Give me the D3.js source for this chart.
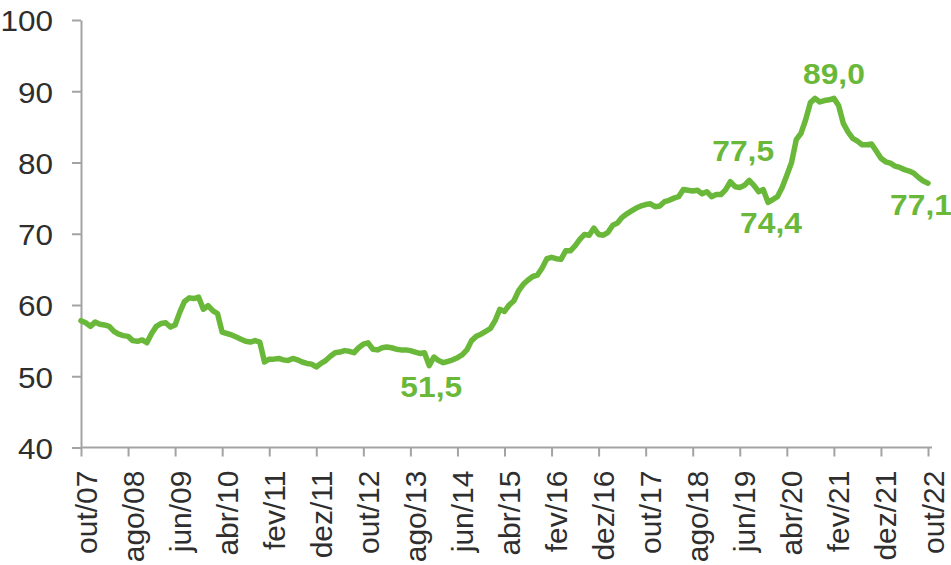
<!DOCTYPE html>
<html>
<head>
<meta charset="utf-8">
<script src="https://cdn.jsdelivr.net/npm/d3@7"></script>
<style>
  body { margin: 0; background: #fff; }
  svg { display: block; font-family: "Liberation Sans", Arial, sans-serif; }
</style>
</head>
<body>
<svg class="chart"></svg>
<script>
// monthly index, out/07 .. out/22 (181 months)
const values = [
    57.8, 57.5, 57.0, 57.6, 57.3, 57.2, 57.0, 56.3, 55.9, 55.7,
    55.6, 55.0, 54.9, 55.1, 54.7, 56.0, 57.0, 57.4, 57.5, 56.9,
    57.2, 59.0, 60.5, 61.0, 60.9, 61.1, 59.4, 59.9, 59.2, 58.8,
    56.2, 56.0, 55.8, 55.5, 55.2, 54.9, 54.8, 55.0, 54.8, 52.0,
    52.4, 52.4, 52.5, 52.3, 52.2, 52.5, 52.3, 52.0, 51.8, 51.7,
    51.3, 51.8, 52.2, 52.8, 53.3, 53.4, 53.6, 53.5, 53.3, 54.0,
    54.5, 54.7, 53.8, 53.7, 54.0, 54.1, 54.0, 53.8, 53.7, 53.7,
    53.6, 53.4, 53.2, 53.3, 51.5, 52.7, 52.2, 51.9, 52.1, 52.3,
    52.6, 53.0, 53.7, 55.0, 55.6, 55.9, 56.3, 56.7, 57.8, 59.4,
    59.1, 60.0, 60.6, 62.0, 62.9, 63.5, 64.0, 64.2, 65.2, 66.5,
    66.7, 66.5, 66.4, 67.6, 67.6, 68.3, 69.2, 69.9, 69.8, 70.8,
    69.9, 69.8, 70.2, 71.2, 71.5, 72.3, 72.8, 73.2, 73.6, 73.9,
    74.1, 74.2, 73.8, 73.9, 74.5, 74.7, 75.0, 75.2, 76.2, 76.1,
    76.0, 76.1, 75.6, 75.9, 75.2, 75.5, 75.5, 76.2, 77.3, 76.6,
    76.5, 76.8, 77.5, 76.8, 75.9, 76.2, 74.4, 74.8, 75.2, 76.5,
    78.2, 80.0, 83.2, 84.1, 86.0, 88.4, 89.0, 88.5, 88.7, 88.8,
    89.0, 88.0, 85.5, 84.3, 83.4, 83.0, 82.5, 82.5, 82.6, 81.6,
    80.6, 80.1, 79.9, 79.5, 79.3, 79.0, 78.8, 78.5, 77.9, 77.4,
    77.1
];

const tickLabels = ["out/07", "ago/08", "jun/09", "abr/10", "fev/11", "dez/11", "out/12",
    "ago/13", "jun/14", "abr/15", "fev/16", "dez/16", "out/17", "ago/18", "jun/19",
    "abr/20", "fev/21", "dez/21", "out/22"];

const yTicks = [40, 50, 60, 70, 80, 90, 100];

// highlighted points: month index and label
const highlightIdx = [74, 160, 142, 146, 180];
const highlightText = ["51,5", "89,0", "77,5", "74,4", "77,1"];

const width = 951, height = 565,
      margin = { top: 20, left: 81, right: 23, bottom: 117.5 };

const green = "#6ab83a", axisGray = "#a3a3a3", textColor = "#2e2e2e";

const svg = d3.select(".chart").attr("width", width).attr("height", height);

const x = d3.scaleLinear()
    .domain([0, values.length - 1])
    .range([margin.left, width - margin.right]);

const y = d3.scaleLinear()
    .domain([40, 100])
    .range([height - margin.bottom, margin.top]);

// y axis
const yAxis = svg.append("g")
    .attr("transform", `translate(${margin.left},0)`)
    .call(d3.axisLeft(y).tickValues(yTicks).tickSize(9).tickPadding(20).tickSizeOuter(0));
yAxis.select(".domain").attr("stroke", axisGray).attr("stroke-width", 2);
yAxis.selectAll(".tick line").attr("stroke", axisGray).attr("stroke-width", 2);
yAxis.selectAll(".tick text")
    .attr("fill", textColor)
    .attr("font-size", 30)
    .attr("x", 0)
    .attr("dy", "0.36em")
    .attr("transform", "translate(-28,0) scale(1.05,1)");

// x axis
const xAxis = svg.append("g")
    .attr("transform", `translate(0,${y(40)})`)
    .call(d3.axisBottom(x)
        .tickValues(d3.range(0, values.length, 10))
        .tickFormat((d, i) => tickLabels[i])
        .tickSize(9)
        .tickSizeOuter(0));
xAxis.select(".domain").remove();
xAxis.append("line")
    .attr("x1", margin.left).attr("x2", width - 19)
    .attr("stroke", axisGray).attr("stroke-width", 2);
xAxis.selectAll(".tick line").attr("stroke", axisGray).attr("stroke-width", 2);
xAxis.selectAll(".tick text")
    .attr("fill", textColor)
    .attr("font-size", 30)
    .attr("text-anchor", "end")
    .attr("y", 0).attr("dy", 0)
    .attr("transform", "translate(15,23) rotate(-90)");

// the line
const line = d3.line()
    .x((d, i) => x(i))
    .y(d => y(d));

svg.append("path")
    .datum(values)
    .attr("fill", "none")
    .attr("stroke", green)
    .attr("stroke-width", 5.5)
    .attr("stroke-linejoin", "round")
    .attr("stroke-linecap", "round")
    .attr("d", line);

// value labels
const labelOffset = [[2, 31], [0, -14], [-6, -19], [3, 31], [-7, 32]];
svg.selectAll(".value-label")
    .data(highlightIdx)
    .enter()
    .append("text")
    .attr("class", "value-label")
    .attr("transform", (d, i) =>
        `translate(${x(d) + labelOffset[i][0]},${y(values[d]) + labelOffset[i][1]}) scale(1.06,1)`)
    .attr("text-anchor", "middle")
    .attr("font-size", 30)
    .attr("font-weight", "bold")
    .attr("fill", green)
    .text((d, i) => highlightText[i]);
</script>
</body>
</html>
